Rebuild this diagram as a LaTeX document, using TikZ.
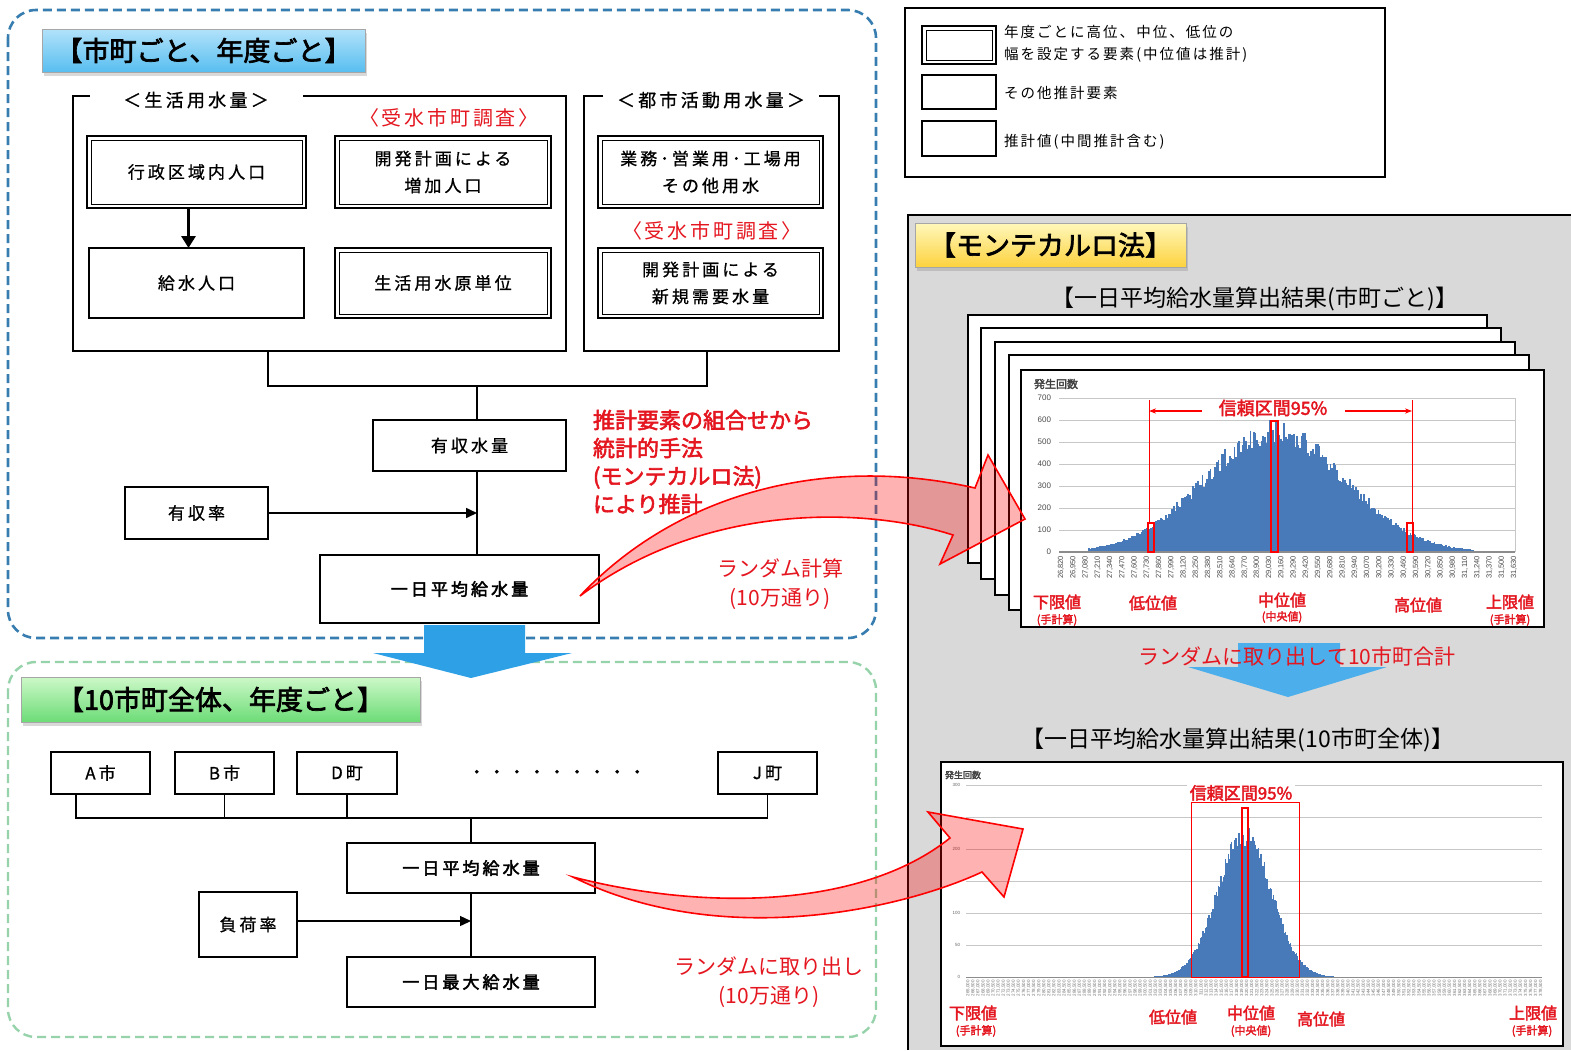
\documentclass[tikz,border=0pt]{standalone}
\usepackage{fontspec}
\setmainfont{Noto Sans CJK JP}[AutoFakeBold=2.5]
\newfontfamily\spfont{Noto Sans CJK JP}[LetterSpace=18,FakeBold=0.8,AutoFakeBold=2.5]
\newfontfamily\lgfont{Noto Sans CJK JP}[LetterSpace=14]
\newfontfamily\numfont{Liberation Sans}
\usetikzlibrary{shadows,arrows.meta}
\newcommand\fsz[2]{\fontsize{#1}{#2}\selectfont}
\definecolor{frameblue}{RGB}{55,125,175}
\definecolor{framegreen}{RGB}{150,210,170}
\definecolor{arrowblue}{RGB}{45,160,230}
\definecolor{panelgray}{RGB}{217,217,217}
\definecolor{redtxt}{RGB}{228,22,32}
\definecolor{barblue}{RGB}{72,122,186}
\tikzset{
  every node/.style={inner sep=0pt, outer sep=0pt},
  bx/.style={draw, fill=white, align=center, font=\spfont\fsz{17}{27}},
  thinbox/.style={bx, line width=1.1pt},
  thickbox/.style={bx, line width=2.4pt},
  dblbox/.style={bx, line width=2.4pt, path picture={\draw[line width=1pt] ([shift={(4pt,-4pt)}]path picture bounding box.north west) rectangle ([shift={(-4pt,4pt)}]path picture bounding box.south east);}},
  redlbl/.style={text=redtxt, font=\lgfont\fsz{20}{24}},
  redbold/.style={text=redtxt, font=\bfseries\fsz{22}{28}, align=left},
  redplain/.style={text=redtxt, font=\fsz{21}{29}, align=center},
  banner/.style={draw=black!35, line width=0.6pt, drop shadow={opacity=0.3, shadow xshift=2pt, shadow yshift=-4pt}, font=\bfseries\fsz{27}{30}},
  chl/.style={text=redtxt, font=\bfseries\fsz{16}{18}},
  chs/.style={text=redtxt, font=\bfseries\fsz{11}{13}},
  ttl/.style={font=\fsz{23}{26}},
  lgtext/.style={font=\lgfont\fsz{14.5}{22}, align=left},
  grid1/.style={draw=black!22, line width=0.8pt},
}
\begin{document}
\begin{tikzpicture}[x=1pt,y=-1pt]
\useasboundingbox (0,0) rectangle (1571,1050);

% ---------------- top-left frame ----------------
\draw[frameblue, line width=2.6pt, dash pattern=on 9pt off 5pt, rounded corners=28pt] (8,10) rectangle (876,638);
\node[banner, top color={rgb,255:red,178;green,226;blue,250}, bottom color={rgb,255:red,88;green,190;blue,240}, minimum width=323pt, minimum height=43pt] (ban1) at (203.5,50.5) {【市町ごと、年度ごと】};

% brackets
\draw[line width=1.8pt] (90,96) -- (73,96) -- (73,351) -- (566,351) -- (566,96) -- (303,96);
\draw[line width=1.8pt] (603,96) -- (584,96) -- (584,351) -- (839,351) -- (839,96) -- (819,96);
\node[font=\spfont\fsz{18}{20}] (seikatsu) at (196,100) {＜生活用水量＞};
\node[font=\spfont\fsz{18}{20}] (toshi) at (711,100) {＜都市活動用水量＞};

\node[dblbox, minimum width=219pt, minimum height=72pt] (gyosei) at (196.5,172) {行政区域内人口};
\node[dblbox, minimum width=216pt, minimum height=72pt] (kaihatsu1) at (443,172) {開発計画による\\増加人口};
\node[thickbox, minimum width=215pt, minimum height=70pt] (kyusui) at (196.5,283) {給水人口};
\node[dblbox, minimum width=216pt, minimum height=70pt] (gentani) at (443,283) {生活用水原単位};
\node[dblbox, minimum width=225pt, minimum height=72pt] (gyomu) at (710.5,172) {業務･営業用･工場用\\その他用水};
\node[dblbox, minimum width=225pt, minimum height=70pt] (kaihatsu2) at (710.5,283) {開発計画による\\新規需要水量};
\node[redlbl] (chosa1) at (449,118) {〈受水市町調査〉};
\node[redlbl] (chosa2) at (712,231) {〈受水市町調査〉};

\draw[line width=3pt, -{Triangle[length=12pt,width=14pt]}] ([xshift=-8pt]gyosei.south) -- ([xshift=-8pt]kyusui.north);

\coordinate (f1b) at (268,351);
\coordinate (f2b) at (707,351);
\coordinate (j1) at (477,386);
\coordinate (j2) at (477,513);
\draw[line width=1.1pt] (f1b) |- (j1) -| (f2b);

\node[thinbox, minimum width=193pt, minimum height=51pt] (yushu) at (469.5,445.5) {有収水量};
\node[thinbox, minimum width=143pt, minimum height=52pt] (yushuritsu) at (196.5,513) {有収率};
\node[thickbox, minimum width=279pt, minimum height=68pt] (heikin1) at (459.5,589) {\bfseries 一日平均給水量};

\draw[line width=1.1pt] (j1) -- (j1 |- yushu.north);
\draw[line width=1.1pt] (j1 |- yushu.south) -- (j1 |- heikin1.north);
\draw[line width=1.6pt, -{Triangle[length=11pt,width=10pt]}] (yushuritsu.east) -- (j2);

\node[redbold, anchor=west] (suikei) at (593,462) {推計要素の組合せから\\統計的手法\\(モンテカルロ法)\\により推計};
\node[redplain] (rand1) at (780,584) {ランダム計算\\(10万通り)};

% ---------------- bottom-left frame ----------------
\draw[framegreen, line width=2.4pt, dash pattern=on 9pt off 5pt, rounded corners=28pt] (8,662) rectangle (876,1037);
\fill[arrowblue] (424,625) -- (525,625) -- (525,653) -- (572,653) -- (471,678) -- (373,653) -- (424,653) -- cycle;
\node[banner, top color={rgb,255:red,205;green,248;blue,200}, bottom color={rgb,255:red,108;green,220;blue,118}, minimum width=399pt, minimum height=45pt] (ban2) at (220.5,699.5) {【10市町全体、年度ごと】};

\node[thinbox, minimum width=99pt, minimum height=42pt] (townA) at (100.5,773) {A市};
\node[thinbox, minimum width=99pt, minimum height=42pt] (townB) at (224.5,773) {B市};
\node[thinbox, minimum width=100pt, minimum height=42pt] (townD) at (347,773) {D町};
\node[thinbox, minimum width=99pt, minimum height=42pt] (townJ) at (767.5,773) {J町};
\node[font=\spfont\fsz{17}{20}] (dots) at (557,774) {・・・・・・・・・};

\coordinate (busA) at (76,818);
\coordinate (busJ) at (767.5,818);
\coordinate (bus) at (471,818);
\draw[line width=1.1pt] (busA |- townA.south) -- (busA) -- (busJ) -- (townJ.south);
\draw[line width=1.1pt] (townB.south) -- (townB.south |- busA);
\draw[line width=1.1pt] (townD.south) -- (townD.south |- busA);

\node[thickbox, line width=1.8pt, minimum width=248pt, minimum height=50pt] (heikin2) at (471,868) {\bfseries 一日平均給水量};
\node[thinbox, minimum width=98pt, minimum height=65pt] (fuka) at (248,924.5) {負荷率};
\node[thickbox, line width=1.8pt, minimum width=248pt, minimum height=50pt] (saidai) at (471,982) {\bfseries 一日最大給水量};
\coordinate (j3) at (471,921);
\draw[line width=1.1pt] (bus) -- (heikin2.north);
\draw[line width=1.1pt] (heikin2.south) -- (saidai.north);
\draw[line width=1.4pt, -{Triangle[length=11pt,width=10pt]}] (j3 -| fuka.east) -- (j3);
\node[redplain] (rand2) at (769,982) {ランダムに取り出し\\(10万通り)};

% ---------------- legend ----------------
\node[draw, line width=2.4pt, minimum width=480pt, minimum height=169pt] (legend) at (1145,92.5) {};
\node[dblbox, minimum width=74pt, minimum height=38pt] (lg1) at (959,45) {};
\node[thinbox, minimum width=74pt, minimum height=34pt] (lg2) at (959,92) {};
\node[thickbox, minimum width=74pt, minimum height=35pt] (lg3) at (959,138.5) {};
\node[lgtext, anchor=west] (lgt1) at (1004,44) {年度ごとに高位、中位、低位の\\幅を設定する要素(中位値は推計)};
\node[lgtext, anchor=west] (lgt2) at (1004,93) {その他推計要素};
\node[lgtext, anchor=west] (lgt3) at (1004,142) {推計値(中間推計含む)};

% ---------------- right gray panel ----------------
\fill[panelgray] (908,215) rectangle (1571,1050);
\draw[line width=1.5pt] (908,1050) -- (908,215) -- (1571,215);
\node[banner, top color={rgb,255:red,255;green,248;blue,188}, bottom color={rgb,255:red,252;green,210;blue,62}, minimum width=271pt, minimum height=44pt] (ban3) at (1050.5,245) {【モンテカルロ法】};
\node[ttl] (t1) at (1255,299) {【一日平均給水量算出結果(市町ごと)】};

\foreach \a/\b/\c/\d in {968/315/1487/563, 981/328/1501/579, 995/342/1515/595, 1009/355/1529/610}
  \filldraw[fill=white, line width=2.2pt] (\a,\b) rectangle (\c,\d);
\filldraw[fill=white, line width=2.4pt] (1021,370) rectangle (1544,627);

% chart 1
\foreach \v in {0,...,7} {
  \draw[grid1] (1059,552-22*\v) -- (1515,552-22*\v);
  \node[anchor=east, font=\numfont\fsz{8}{9}, text=black!70] (yt\v) at (1051,552-22*\v) {\the\numexpr 100*\v\relax};
}
\draw[draw=black!22, line width=0.8pt] (1515,398) -- (1515,552);
\node[font=\bfseries\fsz{11}{12}, text=black!75] (hassei1) at (1056,384) {発生回数};
\pgfmathsetseed{7}
\foreach \k in {0,...,240} {
  \pgfmathsetmacro\xx{1088+1.6*\k}
  \pgfmathsetmacro\tt{(\xx-1274)/70}
  \pgfmathsetmacro\hh{123*exp(-0.5*\tt*\tt)*(0.88+0.2*rnd)}
  \fill[barblue] (\xx,552) rectangle ({\xx+1.7},{552-\hh});
}
\draw[black!45, line width=1.2pt] (1059,552) -- (1515,552);
\foreach \i in {0,...,37} {
  \pgfmathsetmacro\xx{1061+12.24*\i}
  \pgfmathtruncatemacro\nn{820+130*\i}
  \pgfmathtruncatemacro\thou{26+floor(\nn/1000)}
  \pgfmathtruncatemacro\remd{\nn-1000*floor(\nn/1000)}
  \node[rotate=90, anchor=east, font=\numfont\fsz{7.5}{8}, text=black!70] (xl\i) at (\xx,556) {\thou,\ifnum\remd<100 0\fi\remd};
}
\draw[red, line width=1.6pt] (1148,552) rectangle (1154,523);
\draw[red, line width=1.6pt] (1271,552) rectangle (1278,421);
\draw[red, line width=1.6pt] (1407,552) rectangle (1413,523);
\draw[red, line width=1pt] (1149,523) -- (1149,400);
\draw[red, line width=1pt] (1412,523) -- (1412,400);
\draw[red, line width=1.2pt, -{Stealth[length=7pt]}] (1202,411) -- (1149,411);
\draw[red, line width=1.2pt, -{Stealth[length=7pt]}] (1345,411) -- (1412,411);
\node[text=redtxt, font=\bfseries\fsz{18}{20}] (ci1) at (1273,408) {信頼区間95\%};
\node[chl] (lo1) at (1057,602) {下限値};
\node[chs] (lo1s) at (1057,620) {(手計算)};
\node[chl] (low1) at (1153,603) {低位値};
\node[chl] (mid1) at (1282,600) {中位値};
\node[chs] (mid1s) at (1282,617) {(中央値)};
\node[chl] (high1) at (1418,605) {高位値};
\node[chl] (up1) at (1510,602) {上限値};
\node[chs] (up1s) at (1510,620) {(手計算)};

% middle blue arrow + text
\fill[arrowblue!85!white] (1238,643) -- (1340,643) -- (1340,667) -- (1387,667) -- (1288,697) -- (1188,667) -- (1238,667) -- cycle;
\node[text=redtxt, font=\fsz{21}{24}] (rand3) at (1297,656) {ランダムに取り出して10市町合計};

\node[ttl] (t2) at (1238,740) {【一日平均給水量算出結果(10市町全体)】};

% chart 2
\filldraw[fill=white, line width=2.4pt] (941,762) rectangle (1563,1046);
\foreach \v in {0,...,6}
  \draw[grid1] (966,977-32*\v) -- (1542,977-32*\v);
\foreach \v/\lab in {0/0, 1/50, 2/100, 4/200, 6/300}
  \node[anchor=east, font=\numfont\fsz{4.5}{5}, text=black!60] (yu\v) at (960,977-32*\v) {\lab};
\node[anchor=west, font=\bfseries\fsz{9}{10}, text=black!75] (hassei2) at (945,775) {発生回数};
\foreach \k in {0,...,180} {
  \pgfmathsetmacro\xx{1134+1.2*\k}
  \pgfmathsetmacro\tt{(\xx-1244)/27}
  \pgfmathsetmacro\hh{145*exp(-0.5*\tt*\tt)*(0.9+0.15*rnd)}
  \fill[barblue] (\xx,977) rectangle ({\xx+1.25},{977-\hh});
}
\draw[black!45, line width=1pt] (966,977) -- (1542,977);
\foreach \i in {0,...,113} {
  \pgfmathsetmacro\xx{968+5.07*\i}
  \node[rotate=90, anchor=east, font=\numfont\fsz{4.5}{5}, text=black!55] (xm\i) at (\xx,980) {\the\numexpr 265+\i\relax,\ifodd\i\relax 5\else 0\fi 00};
}
\draw[red, line width=1pt] (1191,977) rectangle (1299,802);
\draw[red, line width=2pt] (1242,977) rectangle (1248,808);
\node[fill=white, inner xsep=3pt, text=redtxt, font=\bfseries\fsz{17}{19}] (ci2) at (1241,793) {信頼区間95\%};
\node[chl] (lo2) at (973,1013) {下限値};
\node[chs] (lo2s) at (976,1031) {(手計算)};
\node[chl] (low2) at (1173,1017) {低位値};
\node[chl] (mid2) at (1251,1013) {中位値};
\node[chs] (mid2s) at (1251,1031) {(中央値)};
\node[chl] (high2) at (1321,1019) {高位値};
\node[chl] (up2) at (1533,1013) {上限値};
\node[chs] (up2s) at (1532,1031) {(手計算)};

% ---------------- curved red arrows ----------------
\coordinate (tail1) at (580,596);
\coordinate (tail2) at (573,877);
\filldraw[draw=red, line width=1.6pt, fill=red, fill opacity=0.3, line join=miter]
  (tail1) .. controls (680,490) and (830,455) .. (975,488) -- (988,455) -- (1025,519) -- (940,564) -- (953,535) .. controls (860,505) and (700,505) .. cycle;
\filldraw[draw=red, line width=1.6pt, fill=red, fill opacity=0.3, line join=miter]
  (tail2) .. controls (700,910) and (860,910) .. (950,838) -- (928,812) -- (1023,829) -- (1004,897) -- (982,872) .. controls (900,910) and (720,950) .. cycle;
\end{tikzpicture}
\end{document}
